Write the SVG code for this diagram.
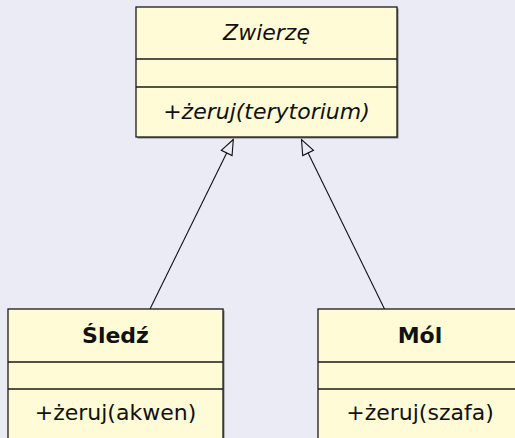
<svg xmlns="http://www.w3.org/2000/svg" width="515" height="438" viewBox="0 0 515 438">
<style>
.bg{fill:#EBEBF6}
.shadow{fill:#7a7a7a}
.box{fill:#FFFBD6;stroke:#1a1a1a;stroke-width:1.3}
.div{stroke:#1a1a1a;stroke-width:1.3}
text{font-family:"DejaVu Sans",sans-serif;font-size:22px;fill:#111;text-anchor:middle}
.it{font-style:italic}
.b{font-weight:bold}
.edge{stroke:#111;stroke-width:1.1;fill:none}
</style>
<defs>
<marker id="tri" markerUnits="userSpaceOnUse" markerWidth="20" markerHeight="16" viewBox="-16 -8 18 16" refX="0" refY="0" orient="auto">
<path d="M0,0 L-15,-6 L-15,6 Z" fill="#EBEBF6" stroke="#111" stroke-width="1.1" stroke-linejoin="miter"/>
</marker>
</defs>
<rect class="bg" x="0" y="0" width="515" height="438"/>
<g id="connectors">
<line class="edge" x1="150" y1="309" x2="233.3" y2="139.5" marker-end="url(#tri)"/>
<line class="edge" x1="385" y1="310" x2="301.5" y2="139.5" marker-end="url(#tri)"/>
</g>
<g id="zwierze">
<rect class="shadow" x="137.5" y="8.5" width="261" height="130"/>
<rect class="box" x="136" y="7" width="261" height="130"/>
<line class="div" x1="136" y1="59" x2="397" y2="59"/>
<line class="div" x1="136" y1="87" x2="397" y2="87"/>
<text class="it" x="266.5" y="40">Zwierzę</text>
<text class="it" x="266.5" y="119">+żeruj(terytorium)</text>
</g>
<g id="sledz">
<rect class="shadow" x="9.5" y="310.5" width="215" height="140"/>
<rect class="box" x="8" y="309" width="215" height="140"/>
<line class="div" x1="8" y1="362" x2="223" y2="362"/>
<line class="div" x1="8" y1="389" x2="223" y2="389"/>
<text class="b" x="115.5" y="343">Śledź</text>
<text x="115.5" y="420">+żeruj(akwen)</text>
</g>
<g id="mol">
<rect class="shadow" x="319.5" y="310.5" width="205" height="140"/>
<rect class="box" x="318" y="309" width="205" height="140"/>
<line class="div" x1="318" y1="362" x2="523" y2="362"/>
<line class="div" x1="318" y1="389" x2="523" y2="389"/>
<text class="b" x="420" y="343">Mól</text>
<text x="420" y="420">+żeruj(szafa)</text>
</g>
</svg>
